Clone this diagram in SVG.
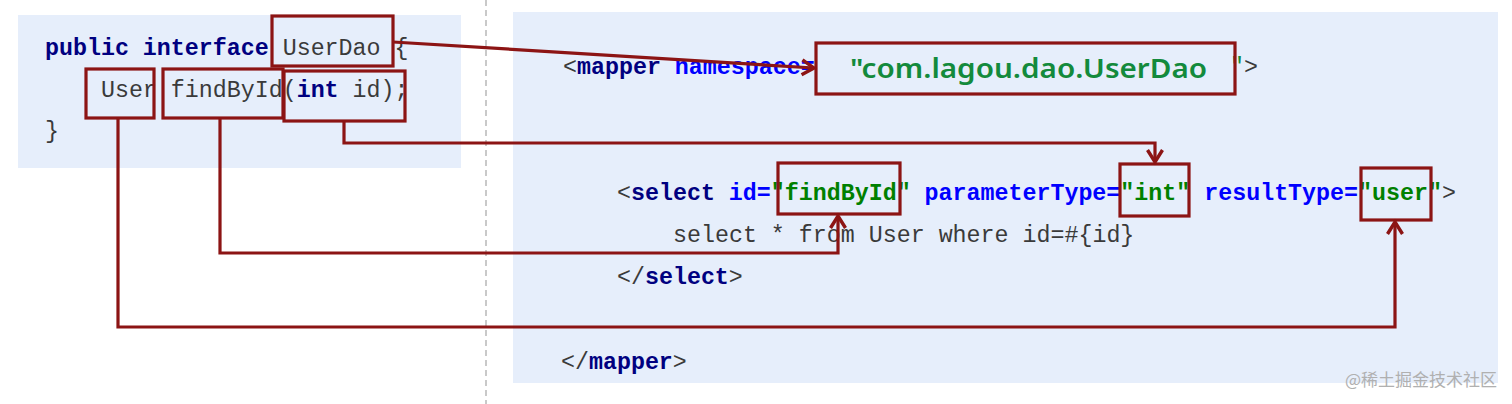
<svg xmlns="http://www.w3.org/2000/svg" width="1512" height="404" viewBox="0 0 1512 404">
<style>
.code{font-family:"Liberation Mono","Courier New",monospace;font-size:23.3px;fill:#3a3a3a}
.kw{font-weight:bold;fill:#000080}
.at{font-weight:bold;fill:#0000ff}
.val{font-weight:bold;fill:#008000}
.box{fill:none;stroke:#8c1414;stroke-width:3.2}
.conn{fill:none;stroke:#8c1414;stroke-width:3.2}
.panel{fill:#e6eefb}
</style>
<defs>
<marker id="arr" markerUnits="userSpaceOnUse" markerWidth="20" markerHeight="20" refX="15" refY="10" orient="auto">
<path d="M3,2.5 L15,10 L3,17.5" fill="none" stroke="#8c1414" stroke-width="3.4"/>
</marker>
</defs>
<rect width="1512" height="404" fill="#ffffff"/>
<rect class="panel" x="18" y="15" width="443" height="153"/>
<rect class="panel" x="513" y="12" width="985" height="371"/>
<line x1="486" y1="0" x2="486" y2="404" stroke="#b8b8b8" stroke-width="1.5" stroke-dasharray="6,4"/>

<g id="java-code">
<text class="code" x="45" y="55"><tspan class="kw">public interface </tspan>UserDao {</text>
<text class="code" x="45" y="97" xml:space="preserve">    User findById(<tspan class="kw">int</tspan> id);</text>
<text class="code" x="45" y="138">}</text>
</g>

<g id="xml-code">
<text class="code" x="563" y="74">&lt;<tspan class="kw">mapper</tspan> <tspan class="at">namespace=</tspan></text>
<text x="850" y="78" font-family="'Noto Sans','Open Sans',sans-serif" font-size="27" font-weight="600" fill="#138a3c" textLength="357" lengthAdjust="spacingAndGlyphs">"com.lagou.dao.UserDao</text>
<text class="code" x="1230" y="74"><tspan fill="#138a3c">"</tspan>&gt;</text>
<text class="code" x="617" y="200">&lt;<tspan class="kw">select</tspan> <tspan class="at">id=</tspan><tspan class="val">"findById"</tspan> <tspan class="at">parameterType=</tspan><tspan class="val">"int"</tspan> <tspan class="at">resultType=</tspan><tspan class="val">"user"</tspan>&gt;</text>
<text class="code" x="673" y="242">select * from User where id=#{id}</text>
<text class="code" x="617" y="284">&lt;/<tspan class="kw">select</tspan>&gt;</text>
<text class="code" x="561" y="369">&lt;/<tspan class="kw">mapper</tspan>&gt;</text>
</g>

<g id="node-userdao"><rect class="box" x="272" y="16" width="121" height="50"/></g>
<g id="node-user"><rect class="box" x="86" y="69" width="68" height="49"/></g>
<g id="node-findbyid"><rect class="box" x="163" y="69" width="120" height="49"/></g>
<g id="node-param"><rect class="box" x="284" y="71" width="121" height="50"/></g>
<g id="node-namespace"><rect class="box" x="816" y="43" width="419" height="51"/></g>
<g id="node-select-id"><rect class="box" x="778" y="163" width="122" height="51"/></g>
<g id="node-param-type"><rect class="box" x="1120" y="164" width="69" height="52"/></g>
<g id="node-result-type"><rect class="box" x="1361" y="168" width="70" height="52"/></g>

<g id="connectors">
<path class="conn" d="M393,42 L814,68" marker-end="url(#arr)"/>
<path class="conn" d="M344,121 V143 H1155 V162" marker-end="url(#arr)"/>
<path class="conn" d="M220,118 V253 H838 V216" marker-end="url(#arr)"/>
<path class="conn" d="M118,118 V327 H1395 V222" marker-end="url(#arr)"/>
</g>

<text x="1497" y="386" text-anchor="end" font-family="'Noto Sans CJK SC',sans-serif" font-size="17" fill="#b0b0b0">@稀土掘金技术社区</text>
</svg>
